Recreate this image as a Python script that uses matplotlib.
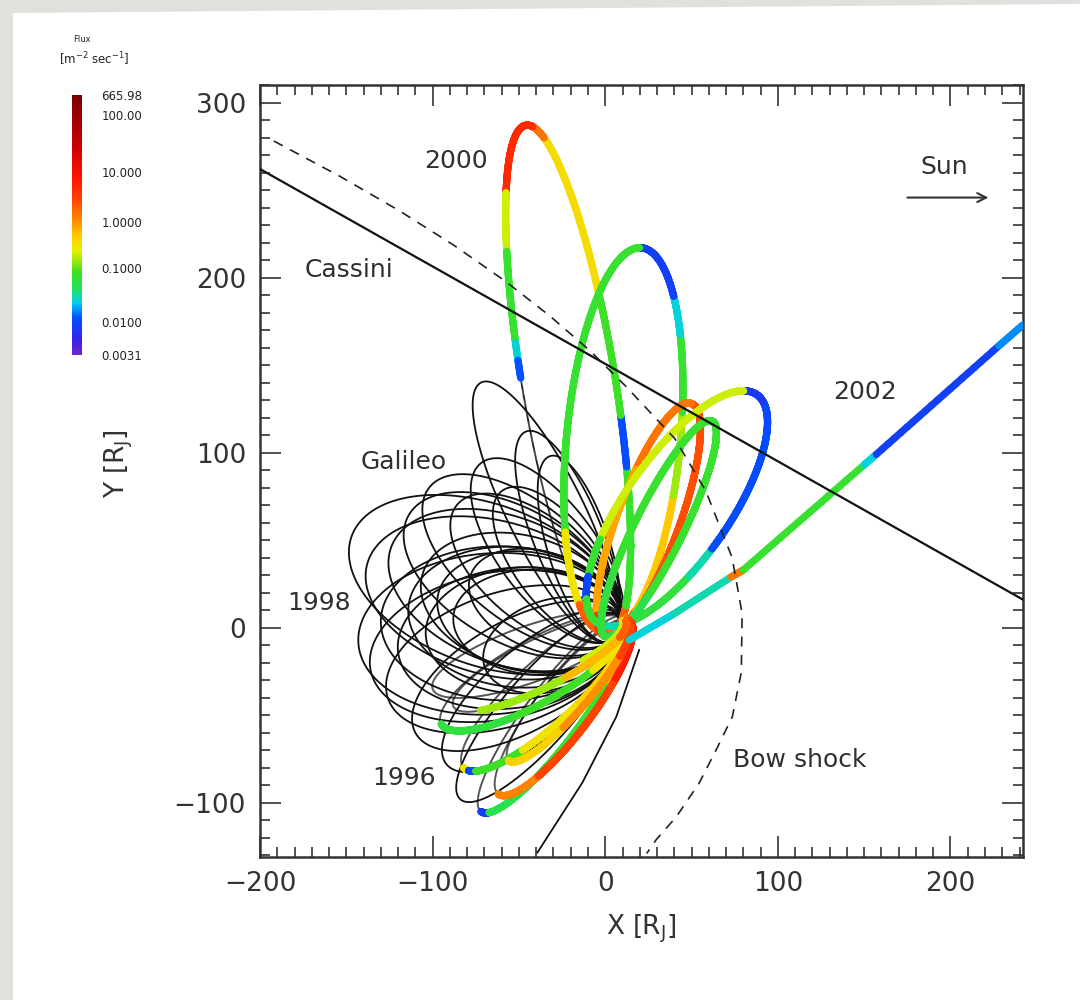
import numpy as np
import matplotlib
matplotlib.use("Agg")
import matplotlib.pyplot as plt
from matplotlib.collections import LineCollection
from matplotlib.colors import LinearSegmentedColormap, FuncNorm
from matplotlib.cm import ScalarMappable
from matplotlib.patches import Polygon
from matplotlib.ticker import MultipleLocator

nan = np.nan

# ---- Galileo orbits without flux data: apojove point, perijove point, half width [R_J]
gal_apo_x = [-84, -92, -110, -126, -143, -136, -130, -120, -114, -104, -97, -88, -147,
             -138, -124, -114, -102, -86, -72, -60, -72, -46, -32, -106, -78, -70]
gal_apo_y = [-98, -78, -60, -40, -9, -24, 4, -14, 12, -4, 18, 6, 52,
             36, 46, 64, 80, 70, 94, 78, 140, 112, 98, 30, 30, -22]
gal_peri_x = [9, 10, 10, 10, 11, 10, 10, 10, 10, 10, 9, 9, 8,
              9, 8, 7, 6, 6, 5, 5, 3, 3, 2, 9, 9, 9]
gal_peri_y = [7, 6, 5, 4, 2, 3, 1, 2, 0, 1, 0, 0, -3,
              -2, -3, -4, -5, -5, -6, -6, -8, -8, -8, -1, -1, 2]
gal_width = [20, 26, 32, 38, 46, 42, 44, 40, 40, 36, 34, 30, 46,
             44, 42, 38, 34, 30, 28, 24, 22, 20, 18, 38, 28, 26]

# ---- Galileo orbits with dust flux [m^-2 s^-1]; flux changes at the given orbit phases (deg from perijove)
dust_apo_x = [-46, 21, 50, 88, 62, -72, -82, -62, -95, -100, -56, -88]
dust_apo_y = [287, 217, 128, 133, 118, -105, -80, -95, -55, -35, -76, -45]
dust_peri_x = [3, 0, 0, -5, 0, 12, 12, 14, 12, 10, 14, 12]
dust_peri_y = [-3, -3, -5, 3, -5, 6, 6, 4, 4, 4, 4, 4]
dust_width = [27, 33, 18, 30, 14, 16, 18, 16, 18, 16, 12, 14]
dust_phase = [
    [0, 25, 68, 80, 108, 160, 172, 221, 238, 260, 264, 268],
    [0, 30, 75, 100, 125, 140, 182, 300, 330],
    [0, 180, 250, 330],
    [0, 25, 70, 85, 170, 195, 300, 320, 335],
    [0, 60, 300],
    [0, 180, 195, 250, 300, 330],
    [0, 180, 190, 200, 240, 280, 320],
    [0, 180, 230, 300],
    [0, 180, 250, 300],
    [0, 300],
    [0, 180, 250, 310],
    [0, 220, 280, 330],
]
dust_flux = [
    [2.0, 0.07, 0.011, 0.08, 0.35, 1.5, 5.0, 0.2, 0.07, 0.025, 0.012, nan],
    [1.5, 0.5, 0.15, 0.07, 0.025, 0.009, 0.07, 0.3, 2.0],
    [2.5, 1.5, 0.8, 4.0],
    [0.03, 0.06, 0.03, 0.011, 0.008, 0.2, 0.07, 0.01, 0.07],
    [0.05, 0.07, 0.06],
    [nan, 0.009, 0.05, 0.07, 0.6, 2.0],
    [nan, 0.3, 0.01, 0.08, 0.3, 0.4, 1.5],
    [nan, 1.2, 3.0, 6.0],
    [nan, 0.06, 0.08, 0.3],
    [nan, 0.2],
    [nan, 0.4, 1.0, 3.0],
    [nan, 0.15, 0.6, 2.0],
]

# ---- 2002 outbound leg
traj_x = [14, 40, 73, 80, 150, 157, 228, 242]
traj_y = [-7, 8, 29, 33, 93, 99, 161, 173]
traj_flux = [0.025, 0.03, 1.5, 0.07, 0.025, 0.009, 0.016]

# ---- Galileo arrival path
arrival_x = [-39.4, -13.3, 6.4, 19.7]
arrival_y = [-128.6, -88.6, -50.9, -12.6]

# ---- Cassini trajectory
cassini_x = [-200, 242]
cassini_y = [262, 16]

# ---- Bow shock
bow_x = [-192, -154, -119, -87, -58, -32, -8.6, 11.8, 40.3, 58.3, 73.5, 79.3,
         78.8, 73.6, 64.3, 54.5, 41.2, 29.6, 24]
bow_y = [278, 258, 238, 218, 198, 178, 158, 138, 108, 78, 40, 8,
         -25.7, -50.9, -69.7, -88.6, -108, -121, -129]

# ---- colour bar
cbar_ticks = [0.0031, 0.01, 0.1, 1.0, 10.0, 100.0, 665.98]
cbar_labels = ["0.0031", "0.0100", "0.1000", "1.0000", "10.000", "100.00", "665.98"]
cbar_frac = [0.0, 0.127, 0.335, 0.512, 0.704, 0.923, 1.0]

cmap = LinearSegmentedColormap.from_list("rainbow_idl", [
    (0.0, "#7028c8"), (0.06, "#3820e8"), (0.14, "#0050ff"), (0.2, "#00d0f0"),
    (0.25, "#20e060"), (0.32, "#40e020"), (0.4, "#e8f000"), (0.46, "#ffc800"),
    (0.52, "#ff8800"), (0.6, "#ff4400"), (0.68, "#ff1400"), (0.8, "#cc0000"),
    (1.0, "#780000")])

log_knots = np.log10(cbar_ticks)


def _fwd(v):
    return np.interp(np.log10(np.clip(v, 1e-6, None)), log_knots, cbar_frac)


def _inv(f):
    return 10 ** np.interp(f, cbar_frac, log_knots)


norm = FuncNorm((_fwd, _inv), vmin=cbar_ticks[0], vmax=cbar_ticks[-1])


def orbit_xy(apo, peri, half_width, t):
    apo = np.asarray(apo, float)
    peri = np.asarray(peri, float)
    c = (apo + peri) / 2
    d = apo - peri
    a = np.hypot(*d) / 2
    u = d / (2 * a)
    v = np.array([u[1], -u[0]])
    return (c[None, :] - a * np.cos(t)[:, None] * u[None, :]
            + half_width * np.sin(t)[:, None] * v[None, :])


fig = plt.figure(figsize=(10.8, 10.0), dpi=100)
fig.patch.set_facecolor("#e2e0dc")
fig.add_artist(Polygon([[13 / 1080, 0], [1, 0], [1, 1 - 4 / 1000], [13 / 1080, 1 - 13 / 1000]],
                       closed=True, transform=fig.transFigure, facecolor="white",
                       edgecolor="none", zorder=-5))

ax = fig.add_axes([260 / 1080, 1 - 857 / 1000, 763 / 1080, 772 / 1000])
ax.set_xlim(-200, 242)
ax.set_ylim(-131, 310)

t = np.linspace(0, 2 * np.pi, 1441)
black_kw = dict(color="#111111", lw=1.3, solid_capstyle="round")

# plain orbits
for i in range(len(gal_apo_x)):
    p = orbit_xy((gal_apo_x[i], gal_apo_y[i]), (gal_peri_x[i], gal_peri_y[i]), gal_width[i], t)
    ax.plot(p[:, 0], p[:, 1], zorder=2, **black_kw)

# orbits coloured by dust flux
col_segs, col_vals, blk_segs = [], [], []
for i in range(len(dust_apo_x)):
    p = orbit_xy((dust_apo_x[i], dust_apo_y[i]), (dust_peri_x[i], dust_peri_y[i]), dust_width[i], t)
    mid = np.degrees((t[:-1] + t[1:]) / 2)
    idx = np.searchsorted(dust_phase[i], mid, side="right") - 1
    vals = np.asarray(dust_flux[i], float)[idx]
    segs = np.stack([p[:-1], p[1:]], axis=1)
    ok = ~np.isnan(vals)
    col_segs.extend(segs[ok])
    col_vals.extend(vals[ok])
    blk_segs.extend(segs[~ok])

ax.add_collection(LineCollection(blk_segs, colors="#111111", linewidths=1.3, zorder=2))

# 2002 leg
tx, ty = np.asarray(traj_x, float), np.asarray(traj_y, float)
for k in range(len(traj_flux)):
    n = 20
    xs = np.linspace(tx[k], tx[k + 1], n + 1)
    ys = np.linspace(ty[k], ty[k + 1], n + 1)
    for j in range(n):
        col_segs.append(np.array([[xs[j], ys[j]], [xs[j + 1], ys[j + 1]]]))
        col_vals.append(traj_flux[k])

lc = LineCollection(col_segs, colors=cmap(norm(np.asarray(col_vals))), linewidths=5.2,
                    capstyle="round", zorder=3)
ax.add_collection(lc)

ax.plot(arrival_x, arrival_y, zorder=4, **black_kw)
ax.plot(cassini_x, cassini_y, color="#111111", lw=1.6, zorder=5)
ax.plot(bow_x, bow_y, color="#222222", lw=1.2, ls=(0, (6, 5)), zorder=5)

# labels
txt = dict(fontsize=18, color="#303030", ha="center", va="center", zorder=6)
ax.text(-86.4, 266.3, "2000", **txt)
ax.text(150.7, 134.9, "2002", **txt)
ax.text(-148.4, 204.6, "Cassini", **txt)
ax.text(-116.5, 94.9, "Galileo", **txt)
ax.text(-165.8, 14.3, "1998", **txt)
ax.text(-116.5, -85.7, "1996", **txt)
ax.text(112.5, -75.4, "Bow shock", **txt)
ax.text(196.5, 263.4, "Sun", **txt)
ax.annotate("", xy=(222, 245.7), xytext=(175, 245.7),
            arrowprops=dict(arrowstyle="->", lw=1.5, color="#333333",
                            shrinkA=0, shrinkB=0, mutation_scale=16))

ax.xaxis.set_major_locator(MultipleLocator(100))
ax.xaxis.set_minor_locator(MultipleLocator(10))
ax.yaxis.set_major_locator(MultipleLocator(100))
ax.yaxis.set_minor_locator(MultipleLocator(10))
ax.tick_params(which="both", direction="in", top=True, right=True, width=1.1, color="#222222")
ax.tick_params(which="major", length=15, labelsize=19, pad=10, labelcolor="#333333")
ax.tick_params(which="minor", length=7)
for s in ax.spines.values():
    s.set_linewidth(1.8)
    s.set_color("#333333")

ax.set_xlabel("X [R$_\\mathrm{J}$]", fontsize=19, color="#333333")
ax.set_ylabel("Y [R$_\\mathrm{J}$]", fontsize=19, color="#333333")
ax.xaxis.set_label_coords(0.5, -0.072)
ax.yaxis.set_label_coords(-0.164, 0.51)

# colour bar
cax = fig.add_axes([72 / 1080, 1 - 355 / 1000, 10 / 1080, 260 / 1000])
cb = fig.colorbar(ScalarMappable(norm=norm, cmap=cmap), cax=cax)
cb.outline.set_visible(False)
cb.set_ticks(cbar_ticks, labels=cbar_labels)
cax.tick_params(length=0, labelsize=8.5, pad=14, labelcolor="#222222")
cax.minorticks_off()
fig.text(82 / 1080, 1 - 40 / 1000, "Flux", fontsize=6, ha="center", va="center", color="#222222")
fig.text(94 / 1080, 1 - 59 / 1000, "[m$^{-2}$ sec$^{-1}$]", fontsize=8.5, ha="center",
         va="center", color="#222222")

fig.savefig("out.png", dpi=100, facecolor=fig.get_facecolor())
